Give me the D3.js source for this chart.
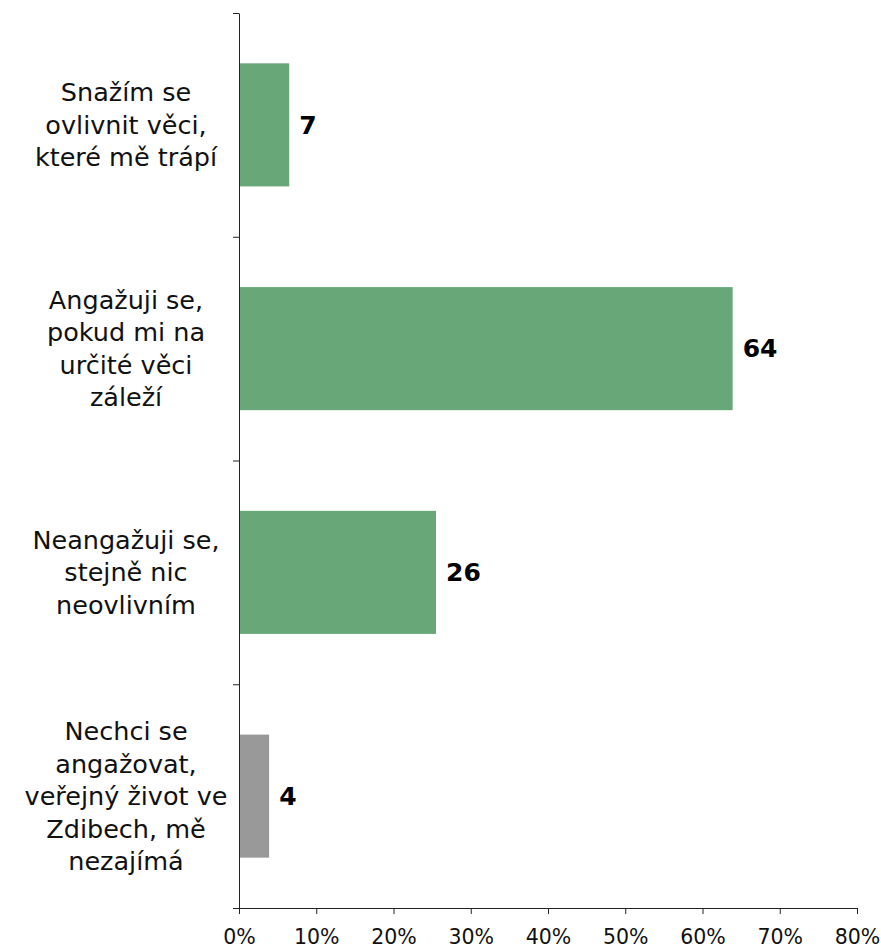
<!DOCTYPE html>
<html>
    <head>
        <meta charset="utf-8">
        <title>Angažovanost</title>
        <script src="https://d3js.org/d3.v7.min.js"></script>
        <style>
            body { margin: 0; background: white; }
            text { font-family: 'DejaVu Sans', Verdana, sans-serif; }
            .axis path, .axis line { stroke: #222; }
            .axis text { font-size: 20.5px; fill: #111; }
        </style>
    </head>
    <body>
        <svg id='canvas' width=881 height=948></svg>
        <script>
            // data
            const categories = [
                ['Snažím se', 'ovlivnit věci,', 'které mě trápí'],
                ['Angažuji se,', 'pokud mi na', 'určité věci', 'záleží'],
                ['Neangažuji se,', 'stejně nic', 'neovlivním'],
                ['Nechci se', 'angažovat,', 'veřejný život ve', 'Zdibech, mě', 'nezajímá']
            ]
            const values = [6.5, 63.9, 25.5, 3.9]
            const barColors = ['#68a878', '#68a878', '#68a878', '#999999']
            const xTicks = [0, 10, 20, 30, 40, 50, 60, 70, 80]

            const margin = { top: 13, right: 24, bottom: 40, left: 239 }
            const svg = d3.select('#canvas')
            const width = svg.attr('width') - margin.left - margin.right
            const height = svg.attr('height') - margin.top - margin.bottom

            const g = svg.append('g')
                .attr('transform', `translate(${margin.left}, ${margin.top})`)

            const idx = d3.range(categories.length)
            const xScale = d3.scaleLinear().domain([0, 80]).range([0, width])
            const yScale = d3.scaleBand().domain(idx).range([0, height])
                .paddingInner(0.45).paddingOuter(0.225)
            // boundaries between categories, used for the y axis ticks
            const yEdges = d3.scaleLinear().domain([0, categories.length]).range([0, height])

            // bars
            g.selectAll('rect.bar')
                .data(idx)
                .enter()
                .append('rect')
                    .attr('class', 'bar')
                    .attr('x', xScale(0))
                    .attr('y', i => yScale(i))
                    .attr('width', i => xScale(values[i]) - xScale(0))
                    .attr('height', yScale.bandwidth())
                    .attr('fill', i => barColors[i])

            // value labels
            g.selectAll('text.value')
                .data(idx)
                .enter()
                .append('text')
                    .attr('class', 'value')
                    .attr('x', i => xScale(values[i]) + 10)
                    .attr('y', i => yScale(i) + yScale.bandwidth() / 2)
                    .attr('dy', '0.35em')
                    .attr('font-size', 25)
                    .attr('font-weight', 'bold')
                    .text(i => Math.round(values[i]))

            // category labels, one tspan per line
            const lineH = 32.5
            const labels = g.selectAll('text.cat')
                .data(idx)
                .enter()
                .append('text')
                    .attr('class', 'cat')
                    .attr('text-anchor', 'middle')
                    .attr('font-size', 25.5)
                    .attr('fill', '#111')
            labels.each(function (i) {
                const lines = categories[i]
                const mid = yScale(i) + yScale.bandwidth() / 2
                const top = mid - (lines.length - 1) * lineH / 2
                d3.select(this).selectAll('tspan')
                    .data(lines)
                    .enter()
                    .append('tspan')
                        .attr('x', -113)
                        .attr('y', (d, j) => top + j * lineH)
                        .attr('dy', '0.35em')
                        .text(d => d)
            })

            // axes
            g.append('g')
                .classed('axis', true)
                .call(d3.axisLeft(yEdges).tickValues(d3.range(categories.length + 1))
                    .tickSize(6).tickSizeOuter(0).tickFormat(''))

            g.append('g')
                .classed('axis', true)
                .attr('transform', `translate(0, ${height})`)
                .call(d3.axisBottom(xScale).tickValues(xTicks)
                    .tickSize(6).tickSizeOuter(0).tickPadding(15)
                    .tickFormat(d => d + '%'))
        </script>
    </body>
</html>
